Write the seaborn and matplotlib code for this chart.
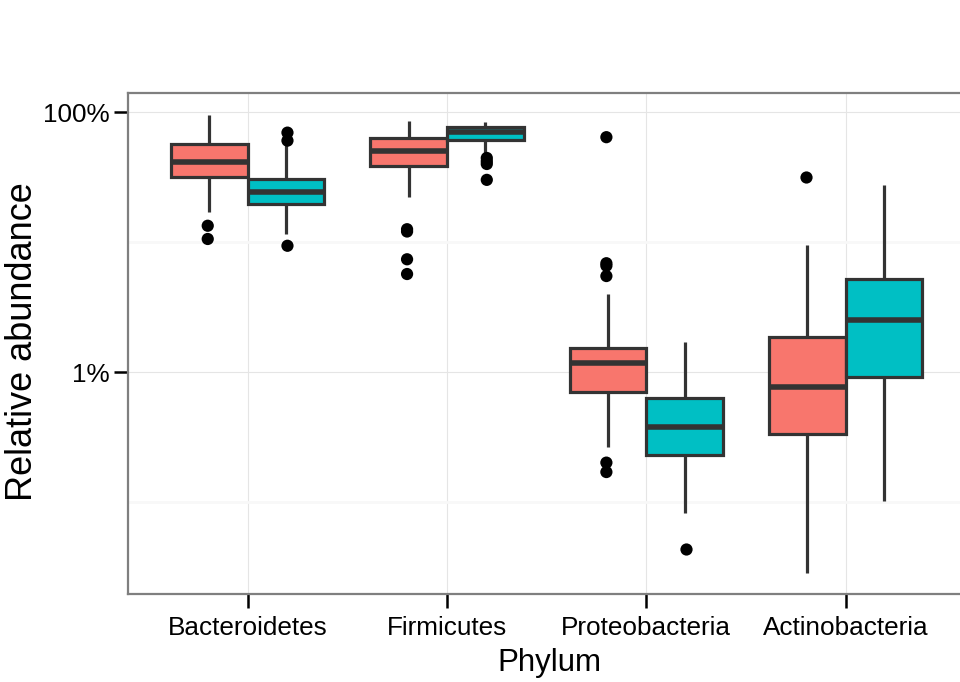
import numpy as np
import pandas as pd
import matplotlib
matplotlib.use("Agg")
import matplotlib.pyplot as plt
from matplotlib.ticker import FixedLocator, NullFormatter
import seaborn as sns

# ---------------- data (relative abundance, %) ----------------
phyla = ["Bacteroidetes", "Firmicutes", "Proteobacteria", "Actinobacteria"]
groups = ["Group 1", "Group 2"]
colors = ["#F8766D", "#00BFC4"]

# five-number summaries per phylum (lower whisker, Q1, median, Q3, upper whisker)
g1_low = [17.2, 22.2, 0.268, 0.0287]
g1_q1 = [32.0, 38.8, 0.71, 0.337]
g1_med = [41.5, 50.1, 1.17, 0.77]
g1_q3 = [57.3, 63.1, 1.53, 1.86]
g1_high = [95.3, 85.7, 4.0, 9.53]

g2_low = [11.6, 48.4, 0.0832, 0.103]
g2_q1 = [19.7, 61.2, 0.232, 0.925]
g2_med = [24.5, 70.2, 0.382, 2.51]
g2_q3 = [30.8, 77.1, 0.634, 5.22]
g2_high = [58.0, 83.8, 1.71, 27.6]

# outliers
g1_out_bacteroidetes = [13.4, 10.6]
g1_out_firmicutes = [12.6, 12.1, 7.4, 5.7]
g1_out_proteobacteria = [64.3, 6.9, 6.6, 5.5, 0.202, 0.171]
g1_out_actinobacteria = [31.6]

g2_out_bacteroidetes = [69.7, 60.5, 9.4]
g2_out_firmicutes = [44.5, 42.0, 40.0, 30.2]
g2_out_proteobacteria = [0.0435]
g2_out_actinobacteria = []

yticks = [1, 100]
ytick_labels = ["1%", "100%"]
y_minor = [0.1, 10]

# ---------------- tables ----------------
rows = []
summ = {
    groups[0]: [g1_low, g1_q1, g1_med, g1_q3, g1_high],
    groups[1]: [g2_low, g2_q1, g2_med, g2_q3, g2_high],
}
for g, stats in summ.items():
    for i, p in enumerate(phyla):
        for arr in stats:
            rows.append({"Phylum": p, "group": g, "pct": arr[i]})
box_df = pd.DataFrame(rows)

out_rows = []
outs = {
    groups[0]: [g1_out_bacteroidetes, g1_out_firmicutes, g1_out_proteobacteria, g1_out_actinobacteria],
    groups[1]: [g2_out_bacteroidetes, g2_out_firmicutes, g2_out_proteobacteria, g2_out_actinobacteria],
}
for g, lists in outs.items():
    for p, vals in zip(phyla, lists):
        for v in vals:
            out_rows.append({"Phylum": p, "group": g, "pct": v})
out_df = pd.DataFrame(out_rows)

# ---------------- style ----------------
sns.set_theme(style="white")
plt.rcParams["font.family"] = ["Liberation Sans", "DejaVu Sans"]

fig = plt.figure(figsize=(9.6, 6.82), dpi=100)
W, H = 960, 682
ax = fig.add_axes([128 / W, 1 - 594 / H, 1 - 128 / W, (594 - 93) / H])
ax.set_yscale("log")

sns.boxplot(
    data=box_df, x="Phylum", y="pct", hue="group",
    order=phyla, hue_order=groups, palette=colors, saturation=1,
    width=0.77, gap=0, whis=(0, 100), showfliers=False, showcaps=False,
    linecolor="#333333", linewidth=2.3,
    medianprops=dict(linewidth=4.0, color="#333333"),
    legend=False, ax=ax,
)
sns.stripplot(
    data=out_df, x="Phylum", y="pct", hue="group",
    order=phyla, hue_order=groups, palette=["black", "black"],
    dodge=True, jitter=False, size=8.8, linewidth=0,
    legend=False, ax=ax, zorder=5,
)

ax.set_ylim(10 ** -1.705, 10 ** 2.148)
ax.set_xlim(-0.6, 3.574)

ax.yaxis.set_major_locator(FixedLocator(yticks))
ax.set_yticklabels(ytick_labels)
ax.yaxis.set_minor_locator(FixedLocator(y_minor))
ax.yaxis.set_minor_formatter(NullFormatter())

ax.set_axisbelow(True)
ax.grid(which="major", axis="both", color="#e5e5e5", linewidth=0.8)
ax.grid(which="minor", axis="y", color="#f8f8f8", linewidth=2.0)

for side in ["left", "top", "bottom"]:
    ax.spines[side].set_color("#7f7f7f")
    ax.spines[side].set_linewidth(1.6)
ax.spines["right"].set_visible(False)

ax.tick_params(axis="both", which="major", length=10, width=1.8, color="black",
               labelsize=18.8, labelcolor="black", direction="out",
               left=True, bottom=True)
ax.tick_params(axis="x", which="major", pad=6)
ax.tick_params(axis="y", which="major", pad=3)
ax.tick_params(which="minor", length=0)

ax.set_xlabel("Phylum", fontsize=22.5, color="black")
ax.set_ylabel("Relative abundance", fontsize=26, color="black")
ax.xaxis.set_label_coords(0.507, -0.108)
ax.yaxis.set_label_coords(-0.106, 0.503)

fig.savefig("out.png", dpi=100)
